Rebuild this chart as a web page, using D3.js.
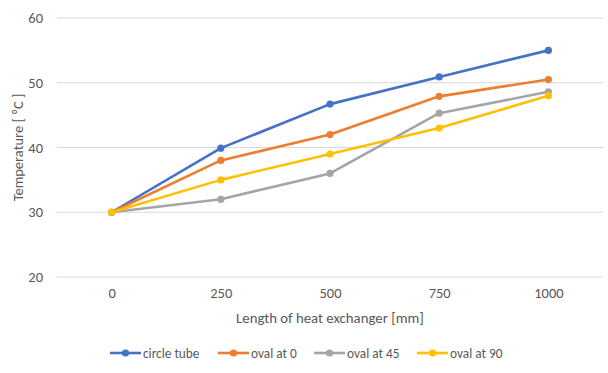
<!DOCTYPE html>
<html>
<head>
<meta charset="utf-8">
<script src="https://cdn.jsdelivr.net/npm/d3@7"></script>
<style>
  body { margin: 0; background: #fff; }
  text { font-family: Carlito, "Open Sans", sans-serif; fill: #595959; }
</style>
</head>
<body>
<div id="chart"></div>
<script>
// data
var lengths = ["0", "250", "500", "750", "1000"];
var seriesNames = ["circle tube", "oval at 0", "oval at 45", "oval at 90"];
var circleTube = [30, 39.9, 46.7, 50.9, 55];
var ovalAt0 = [30, 38, 42, 47.9, 50.5];
var ovalAt45 = [30, 32, 36, 45.3, 48.6];
var ovalAt90 = [30, 35, 39, 43, 48];
var yTicks = [20, 30, 40, 50, 60];
var colors = ["#4472C4", "#ED7D31", "#A5A5A5", "#FFC000"];

var svgWidth = 608, svgHeight = 373;
var margin = { top: 18, right: 5, bottom: 96, left: 57 };
var width = svgWidth - margin.left - margin.right;
var height = svgHeight - margin.top - margin.bottom;

var svg = d3.select("#chart").append("svg")
  .attr("width", svgWidth)
  .attr("height", svgHeight);

var chartGroup = svg.append("g")
  .attr("transform", `translate(${margin.left}, ${margin.top})`);

var xScale = d3.scalePoint().domain(lengths).range([0, width]).padding(0.5);
var yScale = d3.scaleLinear().domain([20, 60]).range([height, 0]);

// gridlines
chartGroup.append("g")
  .selectAll("line")
  .data(yTicks)
  .enter()
  .append("line")
  .attr("x1", 0)
  .attr("x2", width)
  .attr("y1", d => yScale(d))
  .attr("y2", d => yScale(d))
  .attr("stroke", "#d9d9d9")
  .attr("stroke-width", 1);

var leftAxis = d3.axisLeft(yScale).tickValues(yTicks).tickSize(0).tickPadding(14);
var bottomAxis = d3.axisBottom(xScale).tickSize(0).tickPadding(11);

chartGroup.append("g")
  .call(leftAxis)
  .attr("font-size", "14.5px")
  .call(g => g.select(".domain").remove());

chartGroup.append("g")
  .attr("transform", `translate(0, ${height})`)
  .call(bottomAxis)
  .attr("font-size", "14.5px")
  .call(g => g.select(".domain").remove());

chartGroup.selectAll(".tick text").attr("fill", "#595959").style("font-family", "Carlito, 'Open Sans', sans-serif");

// axis titles
chartGroup.append("text")
  .attr("x", xScale("500"))
  .attr("y", height + 46)
  .style("text-anchor", "middle")
  .attr("font-size", "14.8px")
  .text("Length of heat exchanger [mm]");

chartGroup.append("text")
  .attr("transform", "rotate(-90)")
  .attr("x", -(yScale(40)))
  .attr("y", -34)
  .style("text-anchor", "middle")
  .attr("font-size", "14.5px")
  .text("Temperature  [ \u2070C ]");

var allSeries = [circleTube, ovalAt0, ovalAt45, ovalAt90];
var line = d3.line()
  .x((d, i) => xScale(lengths[i]))
  .y(d => yScale(d));

allSeries.forEach(function(vals, s) {
  chartGroup.append("path")
    .datum(vals)
    .attr("d", line)
    .attr("fill", "none")
    .attr("stroke", colors[s])
    .attr("stroke-width", 2.6)
    .attr("stroke-linejoin", "round");
});
allSeries.forEach(function(vals, s) {
  chartGroup.append("g")
    .selectAll("circle")
    .data(vals)
    .enter()
    .append("circle")
    .attr("cx", (d, i) => xScale(lengths[i]))
    .attr("cy", d => yScale(d))
    .attr("r", 3.6)
    .attr("fill", colors[s]);
});

// legend
var legendX = [110, 218, 314, 417];
var legend = svg.append("g").attr("transform", "translate(0, 353)");
seriesNames.forEach(function(name, s) {
  var g = legend.append("g").attr("transform", `translate(${legendX[s]}, 0)`);
  g.append("line").attr("x1", 0).attr("x2", 31).attr("y1", 0).attr("y2", 0)
    .attr("stroke", colors[s]).attr("stroke-width", 2.6);
  g.append("circle").attr("cx", 15.5).attr("cy", 0).attr("r", 3.6).attr("fill", colors[s]);
  g.append("text").attr("x", 33).attr("y", 5).attr("font-size", "13.3px").text(name);
});
</script>
</body>
</html>
